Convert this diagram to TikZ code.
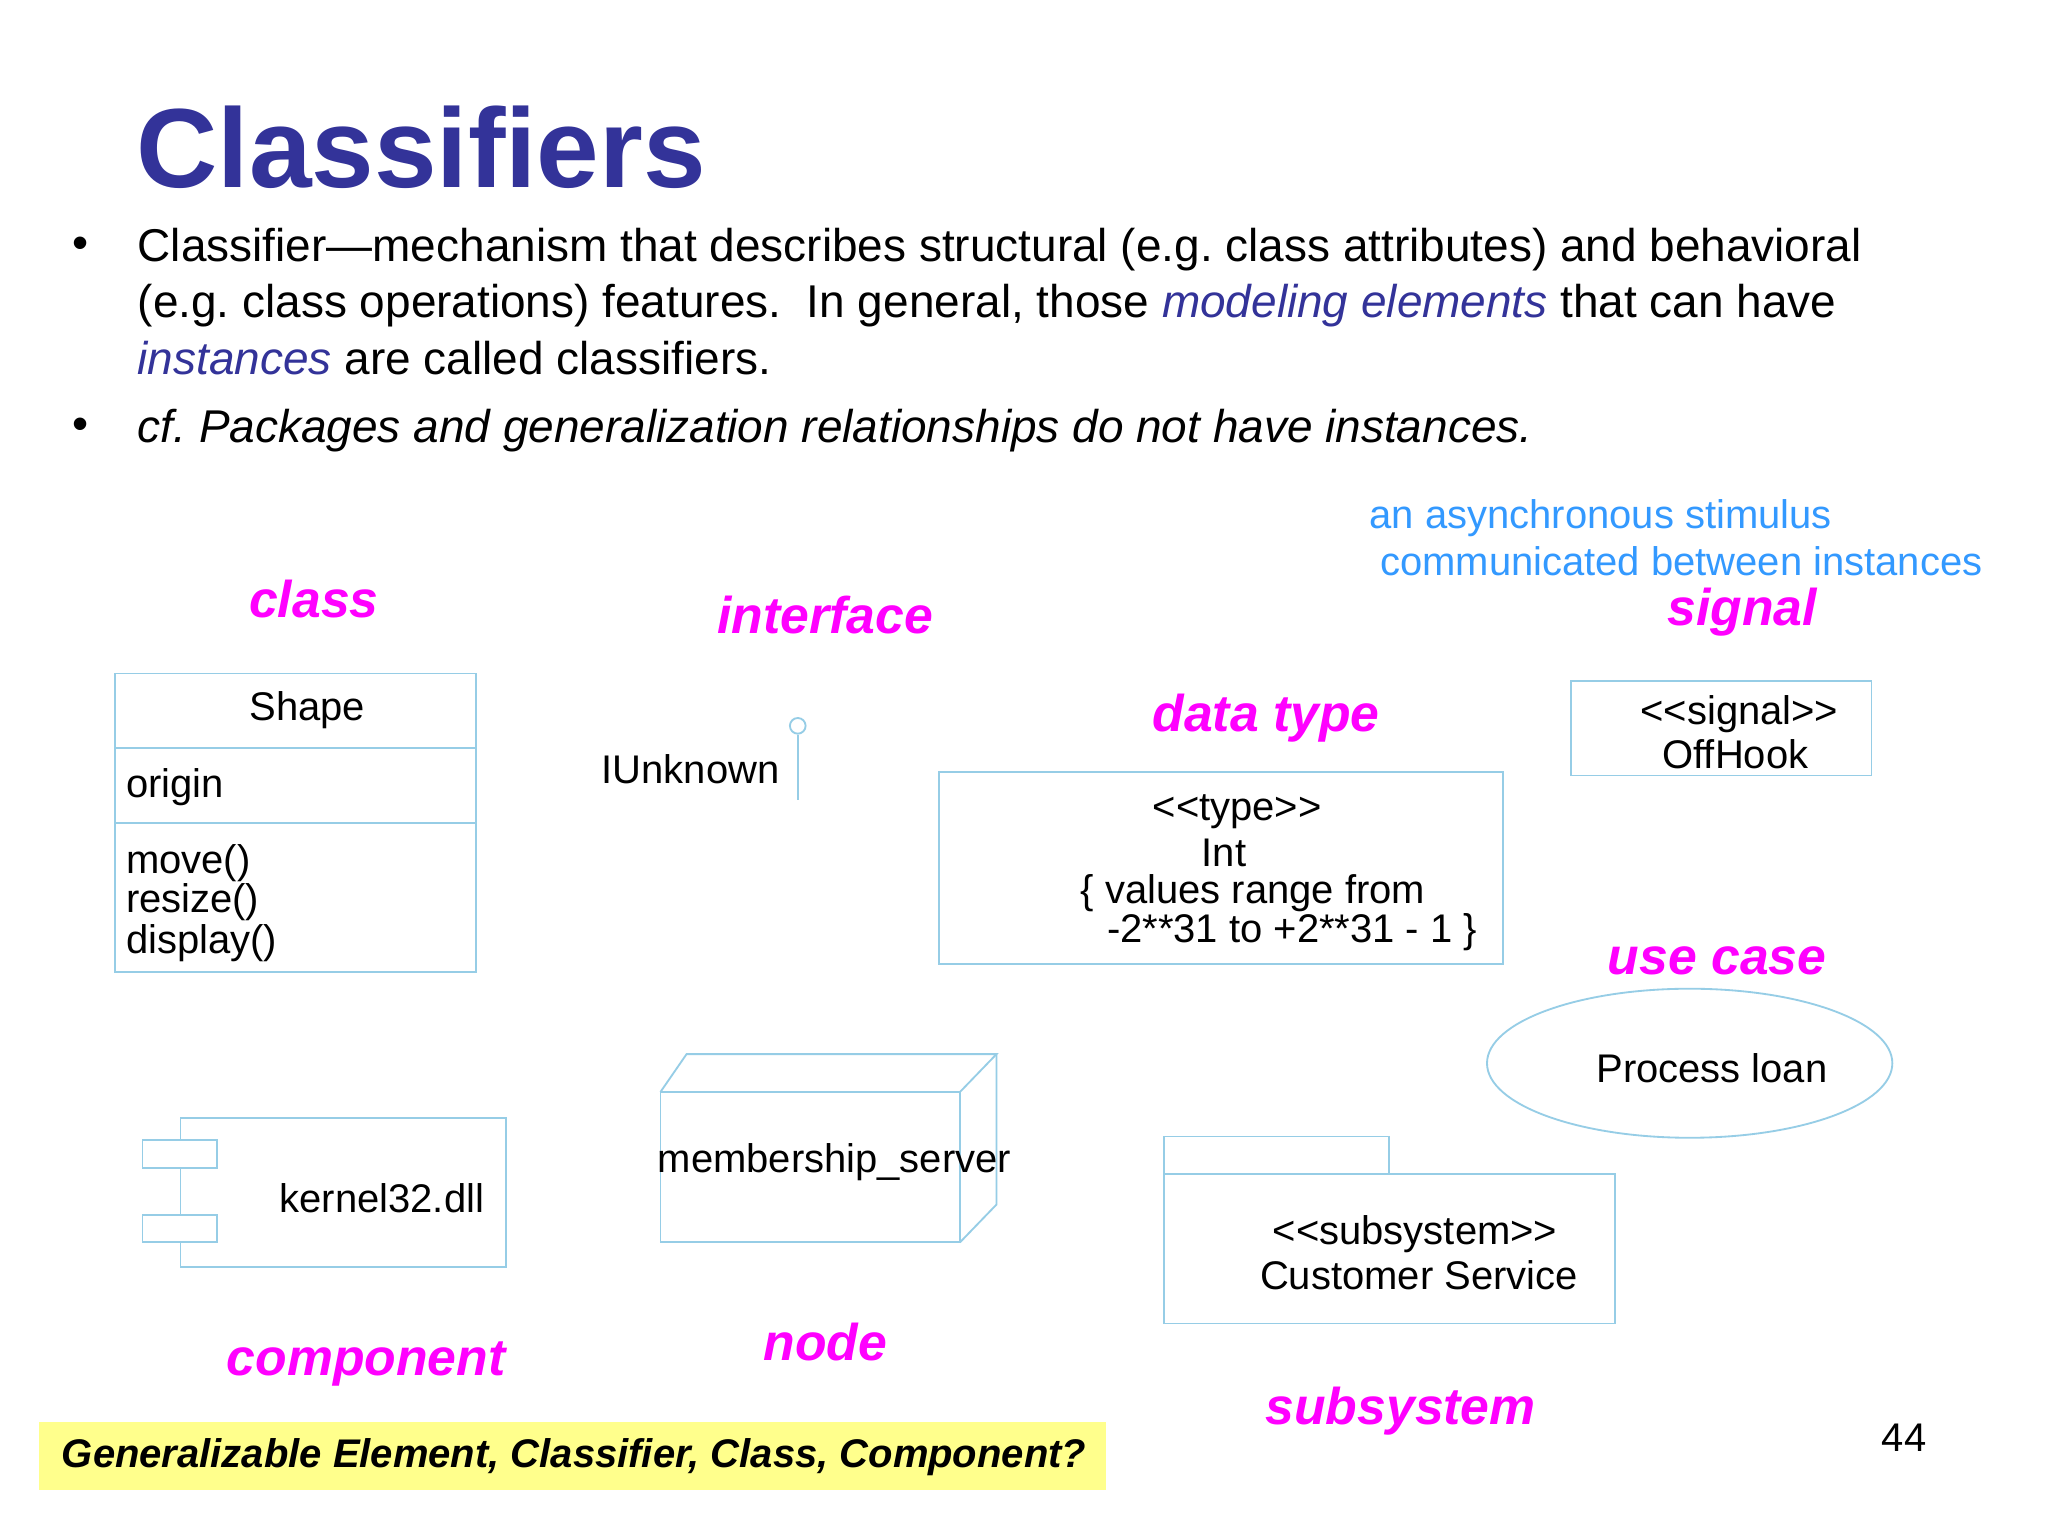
\documentclass[tikz,border=0pt]{standalone}
\usepackage{fontspec}
\setmainfont{Liberation Sans}
\usetikzlibrary{shapes.geometric}
\definecolor{ttl}{RGB}{51,51,153}
\definecolor{mag}{RGB}{255,0,255}
\definecolor{ln}{RGB}{150,205,230}
\definecolor{sky}{RGB}{51,153,255}
\definecolor{ban}{RGB}{255,255,140}
\tikzset{
 lbl/.style={text=mag,font=\fontsize{22.5}{26}\selectfont\bfseries\itshape,inner sep=0},
 dt/.style={font=\fontsize{17.4}{19}\selectfont,inner sep=0},
 body/.style={font=\fontsize{20}{24}\selectfont,inner sep=0,anchor=base west},
 shp/.style={draw=ln,line width=0.8pt}
}
\newcommand{\lsh}{{<}{<}}
\newcommand{\rsh}{{>}{>}}
\begin{document}
\begin{tikzpicture}[x=0.02cm,y=-0.02cm]
\useasboundingbox[fill=white] (0,0) rectangle (1566,1174.5);
\node[anchor=base west,inner sep=0,text=ttl,font=\fontsize{49}{54}\selectfont\bfseries] (title) at (104,143) {Classifiers};
\node[body] (b1) at (55,198) {•};
\node[body] (b2) at (55,336) {•};
\node[body] (t1) at (105,200) {Classifier—mechanism that describes structural (e.g.\ class attributes) and behavioral};
\node[body] (t2) at (105,243) {(e.g.\ class operations) features.\ \ In general, those \textcolor{ttl}{\itshape modeling elements} that can have};
\node[body] (t3) at (105,286) {\textcolor{ttl}{\itshape instances} are called classifiers.};
\node[body] (t4) at (105,338) {\itshape cf.\ Packages and generalization relationships do not have instances.};
\node[dt,anchor=base west,text=sky] (as1) at (1047,404) {an asynchronous stimulus};
\node[dt,anchor=base west,text=sky] (as2) at (1055,440) {communicated between instances};
\node[lbl] (lclass) at (240,458) {class};
\node[lbl] (linterface) at (631,470) {interface};
\node[lbl] (lsignal) at (1332,468) {signal};
\node[lbl] (ldata) at (968,549) {data type};
\node[lbl] (luse) at (1313,735) {use case};
\node[lbl] (lcomp) at (280,1043) {component};
\node[lbl] (lnode) at (631,1026) {node};
\node[lbl] (lsub) at (1071,1079) {subsystem};
% class
\draw[shp] (88,515) rectangle (364,743);
\draw[shp] (88,572) -- (364,572);
\draw[shp] (88,629) -- (364,629);
\node[dt] (shape) at (235,543) {Shape};
\node[dt,anchor=base west] (origin) at (96,610) {origin};
\node[dt,anchor=base west] (m1) at (96,668) {move()};
\node[dt,anchor=base west] (m2) at (96,698) {resize()};
\node[dt,anchor=base west] (m3) at (96,729) {display()};
% interface
\node[shp,circle,minimum size=0.24cm,inner sep=0] (ic) at (610,555) {};
\draw[shp] (ic.south) -- (610,612);
\node[dt] (iu) at (528,588) {IUnknown};
% data type
\draw[shp] (718,590) rectangle (1149,737);
\node[dt] (d1) at (946,621) {\lsh type\rsh};
\node[dt] (d2) at (936,652) {Int};
\node[dt] (d3) at (958,683) {\{ values range from};
\node[dt] (d4) at (988,713) {-2**31 to +2**31 - 1 \}};
% signal
\draw[shp] (1201,521) rectangle (1431,593);
\node[dt] (s1) at (1330,546) {\lsh signal\rsh};
\node[dt] (s2) at (1327,577) {OffHook};
% use case
\node[shp,ellipse,minimum width=6.2cm,minimum height=2.28cm] (uc) at (1292,813) {};
\node[dt] (pl) at (1309,817) {Process loan};
% component
\draw[shp] (138,855) rectangle (387,969);
\draw[shp,fill=white] (109,872) rectangle (166,893);
\draw[shp,fill=white] (109,929) rectangle (166,950);
\node[dt] (k) at (292,916) {kernel32.dll};
% node
\draw[shp] (505,835) rectangle (734,950);
\draw[shp] (505,835) -- (525,806) -- (762,806) -- (734,835);
\draw[shp] (734,950) -- (762,921) -- (762,806);
\node[dt] (ms) at (638,889) {membership\_server};
% subsystem
\draw[shp] (890,898) -- (890,869) -- (1062,869) -- (1062,898);
\draw[shp] (890,898) rectangle (1235,1012);
\node[dt] (ss1) at (1082,944) {\lsh subsystem\rsh};
\node[dt] (ss2) at (1085,975) {Customer Service};
% banner
\fill[ban] (30,1087) rectangle (846,1139);
\node[inner sep=0,font=\fontsize{17.4}{20}\selectfont\bfseries\itshape] (bt) at (439,1114) {Generalizable Element, Classifier, Class, Component?};
\node[dt] (pg) at (1456,1099) {44};
\end{tikzpicture}
\end{document}
